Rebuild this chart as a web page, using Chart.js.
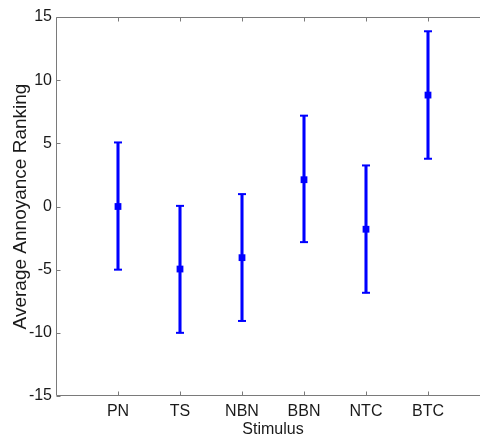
<!DOCTYPE html>
<html>
<head>
<meta charset="utf-8">
<script src="https://cdn.jsdelivr.net/npm/chart.js@4.4.0/dist/chart.umd.min.js"></script>
<style>
  html, body { margin: 0; padding: 0; background: #fff; overflow: hidden; width: 480px; height: 436px; }
  #wrap { position: absolute; left: 0; top: 0; width: 500px; height: 436px; }
</style>
</head>
<body>
<div id="wrap"><canvas id="c" width="500" height="436"></canvas></div>
<script>
// ---- data ----
const categories = ['PN', 'TS', 'NBN', 'BBN', 'NTC', 'BTC'];
const means      = [0.0, -4.95, -4.05, 2.12, -1.8, 8.82];
const upperBound = [5.07, 0.05, 0.98, 7.19, 3.25, 13.87];
const lowerBound = [-5.0, -10.0, -9.06, -2.82, -6.83, 3.78];
const yTicks     = [-15, -10, -5, 0, 5, 10, 15];

const BLUE = 'rgb(0,0,255)';
const AXIS = '#7a7a7a';
const FONT = "'Liberation Sans', Arial, sans-serif";

const xs = categories.map((c, i) => i + 1);

const boxPlugin = {
  id: 'matlabBox',
  afterDraw(chart) {
    const { ctx, chartArea: a, scales } = chart;
    ctx.save();
    ctx.strokeStyle = AXIS;
    ctx.lineWidth = 1;
    const L = Math.round(a.left) + 0.5, R = Math.round(a.right) - 0.5;
    const T = Math.round(a.top) + 0.5, B = Math.round(a.bottom) - 0.5;
    ctx.beginPath();
    ctx.moveTo(L, T); ctx.lineTo(R, T);
    ctx.moveTo(L, B); ctx.lineTo(R, B);
    ctx.moveTo(L, T); ctx.lineTo(L, B);
    ctx.moveTo(R, T); ctx.lineTo(R, B);
    xs.forEach(v => {
      const px = Math.round(scales.x.getPixelForValue(v)) + 0.5;
      ctx.moveTo(px, B); ctx.lineTo(px, B - 4);
      ctx.moveTo(px, T); ctx.lineTo(px, T + 4);
    });
    yTicks.forEach(v => {
      const py = Math.round(scales.y.getPixelForValue(v)) + 0.5;
      ctx.moveTo(L, py); ctx.lineTo(L + 4, py);
      ctx.moveTo(R, py); ctx.lineTo(R - 4, py);
    });
    ctx.stroke();
    ctx.restore();
  }
};

new Chart(document.getElementById('c'), {
  type: 'bar',
  data: {
    datasets: [
      {
        type: 'bar',
        data: xs.map((x, i) => ({ x: x, y: [lowerBound[i], upperBound[i]] })),
        backgroundColor: BLUE,
        borderWidth: 0,
        barThickness: 2.4,
        grouped: false,
        order: 3
      },
      {
        type: 'line',
        data: xs.map((x, i) => ({ x: x, y: upperBound[i] })),
        showLine: false,
        pointStyle: 'line',
        pointRadius: 4,
        borderColor: BLUE,
        pointBorderWidth: 2,
        order: 2
      },
      {
        type: 'line',
        data: xs.map((x, i) => ({ x: x, y: lowerBound[i] })),
        showLine: false,
        pointStyle: 'line',
        pointRadius: 4,
        borderColor: BLUE,
        pointBorderWidth: 2,
        order: 2
      },
      {
        type: 'line',
        data: xs.map((x, i) => ({ x: x, y: means[i] })),
        showLine: false,
        pointStyle: 'rect',
        pointRadius: 4.8,
        pointBackgroundColor: BLUE,
        pointBorderColor: BLUE,
        pointBorderWidth: 0,
        order: 1
      }
    ]
  },
  options: {
    responsive: false,
    animation: false,
    events: [],
    layout: { padding: { left: 0, right: 10, top: 17, bottom: 0 } },
    plugins: { legend: { display: false }, tooltip: { enabled: false } },
    scales: {
      x: {
        type: 'linear',
        offset: false,
        min: 0, max: 7,
        afterBuildTicks(s) { s.ticks = [0,1,2,3,4,5,6,7].map(v => ({ value: v })); },
        afterFit(s) { s.height = 40; },
        grid: { display: false, drawTicks: false },
        border: { display: false },
        ticks: {
          padding: 6,
          color: '#1a1a1a',
          font: { family: FONT, size: 16 },
          maxRotation: 0,
          autoSkip: false,
          callback: v => (v >= 1 && v <= categories.length) ? categories[v - 1] : ''
        },
        title: {
          display: true,
          text: 'Stimulus',
          color: '#1a1a1a',
          font: { family: FONT, size: 16, lineHeight: 0.8 },
          padding: { top: 0, bottom: 0 }
        }
      },
      y: {
        min: -15, max: 15,
        afterBuildTicks(s) { s.ticks = yTicks.map(v => ({ value: v })); },
        afterFit(s) { s.width = 56; },
        grid: { display: false, drawTicks: false },
        border: { display: false },
        ticks: {
          padding: 4,
          color: '#1a1a1a',
          font: { family: FONT, size: 16 }
        },
        title: {
          display: true,
          text: 'Average Annoyance Ranking',
          color: '#1a1a1a',
          font: { family: FONT, size: 19, lineHeight: 1.2 },
          padding: { top: 9, bottom: 0 }
        }
      }
    }
  },
  plugins: [boxPlugin]
});
</script>
</body>
</html>
